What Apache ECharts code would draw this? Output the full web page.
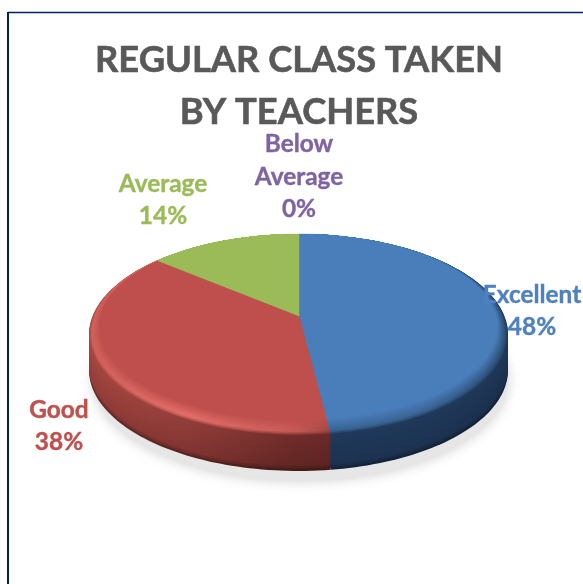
<!DOCTYPE html>
<html>
<head>
<meta charset="utf-8">
<style>html,body{margin:0;padding:0;background:#fff}#c{width:583px;height:584px}</style>
<script src="https://cdn.jsdelivr.net/npm/echarts@6/dist/echarts.min.js"></script>
</head>
<body>
<div id="c"></div>
<script>
// ---- data ----
const titleText = 'REGULAR CLASS TAKEN\nBY TEACHERS';
const categories = ['Excellent', 'Good', 'Average', 'Below Average'];
const values = [48, 38, 14, 0];
const labelNames = ['Excellent', 'Good', 'Average', 'Below\nAverage'];

// ---- styling / layout ----
const FONT = 'Lato, "Open Sans", sans-serif';
const labelColors = ['#4f81bd', '#c0504d', '#9bbb59', '#8064a2'];
const labelAnchors = [[532, 311], [59, 426], [163, 200], [299, 177]];
const faceColors = ['#4a7ebb', '#be4f4c', '#9bbb59', '#8064a2'];
// [x-fraction, rim highlight, wall top, wall bottom]
const shades = [
  [[0, '#3a6596', '#20395a', '#1b3150'], [0.6, '#3a6596', '#20395a', '#1b3150'], [1, '#2d5077', '#1f3757', '#1a2e4b']],
  [[0, '#d0605b', '#a6473f', '#8f3b38'], [0.4, '#e66e69', '#933e3a', '#7f3331'], [0.85, '#c85a56', '#6f2c2a', '#602522'], [1, '#a34643', '#6a2a28', '#5a2320']],
  [[0, '#9bbb59', '#76923c', '#76923c'], [1, '#9bbb59', '#76923c', '#76923c']],
  [[0, '#8064a2', '#5f497a', '#5f497a'], [1, '#8064a2', '#5f497a', '#5f497a']]
];
const APEX = { x: 299, y: 316 };
const PERSP = { a: 205.8, h: 97.4, k: 0.188 };
const OUTER = { cx: 298.5, cy: 335, rx: 209.5, ry: 101 };
const INNER = { cx: 298.5, cy: 327, rx: 199, ry: 93 };
const DEPTH = 35, WALL_STEPS = 14, RIM_STEPS = 12;

const total = values.reduce((a, b) => a + b, 0);
const hex = c => [1, 3, 5].map(i => parseInt(c.substr(i, 2), 16));
const mix = (a, b, t) => {
  const A = hex(a), B = hex(b);
  return '#' + A.map((v, i) => Math.round(v + (B[i] - v) * t).toString(16).padStart(2, '0')).join('');
};
// circle angle -> ray from the apex through the perspective-projected rim point
function rayOf(theta) {
  const w = 1 + PERSP.k * Math.cos(theta);
  return [PERSP.a * Math.sin(theta) / w, -PERSP.h * Math.cos(theta) / w];
}
// where that ray meets the ellipse of bevel level s (0 = inner, 1 = outer)
function hit(ray, s) {
  const rx = INNER.rx + (OUTER.rx - INNER.rx) * s,
        ry = INNER.ry + (OUTER.ry - INNER.ry) * s,
        cy = INNER.cy + (OUTER.cy - INNER.cy) * s;
  const ox = (APEX.x - OUTER.cx) / rx, oy = (APEX.y - cy) / ry;
  const dx = ray[0] / rx, dy = ray[1] / ry;
  const a = dx * dx + dy * dy, b = 2 * (ox * dx + oy * dy), c = ox * ox + oy * oy - 1;
  const u = (-b + Math.sqrt(b * b - 4 * a * c)) / (2 * a);
  return [APEX.x + ray[0] * u, APEX.y + ray[1] * u];
}
function wedge(t0, t1, s, dy) {
  const pts = [[APEX.x, APEX.y + dy]];
  const n = Math.max(2, Math.ceil((t1 - t0) * 40));
  for (let i = 0; i <= n; i++) {
    const p = hit(rayOf(t0 + (t1 - t0) * i / n), s);
    pts.push([p[0], p[1] + dy]);
  }
  return pts;
}
function grad(x0, x1, stops) {
  return { type: 'linear', x: x0, y: 0, x2: x1, y2: 0, global: true,
           colorStops: stops.map(s => ({ offset: s[0], color: s[1] })) };
}
function ramp(i, fn) { return shades[i].map(r => [r[0], fn(r)]); }
function xRange(pts) {
  const xs = pts.map(p => p[0]);
  const a = Math.min.apply(null, xs), b = Math.max.apply(null, xs);
  return [a, b === a ? a + 1 : b];
}

function renderItem(params, api) {
  const i = params.dataIndex;
  const v = api.value(1);
  const before = values.slice(0, i).reduce((a, b) => a + b, 0);
  const t0 = before / total * Math.PI * 2, t1 = (before + v) / total * Math.PI * 2;
  const pct = Math.round(v / total * 100) + '%';
  const children = [];
  if (i === 0) {
    const halo = [];
    for (let k = 0; k < 72; k++) {
      const a = k / 72 * Math.PI * 2;
      halo.push([OUTER.cx + 2 + (OUTER.rx - 3) * Math.cos(a), OUTER.cy + 45 + (OUTER.ry - 1) * Math.sin(a)]);
    }
    children.push({ type: 'polygon', z2: 1, silent: true, shape: { points: halo },
      style: { fill: '#e6e6e6', shadowBlur: 14, shadowColor: 'rgba(0,0,0,0.22)' } });
  }
  if (v > 0) {
    const full = wedge(t0, t1, 1, 0);
    const xr = xRange(full);
    // side wall, from the bottom edge up
    for (let k = WALL_STEPS; k >= 0; k--) {
      const d = DEPTH * k / WALL_STEPS, f = k / WALL_STEPS;
      const dark = k === WALL_STEPS ? 0.72 : (k === WALL_STEPS - 1 ? 0.88 : 1);
      const fill = grad(xr[0], xr[1], ramp(i, r => mix('#000000', mix(r[2], r[3], f), dark)));
      children.push({ type: 'polygon', silent: true, z2: 10 + (WALL_STEPS - k),
        shape: { points: wedge(t0, t1, 1, d) }, style: { fill: fill } });
    }
    // bevelled rim, from the outer edge inward
    for (let k = RIM_STEPS; k >= 1; k--) {
      const s = k / RIM_STEPS;
      const fill = grad(xr[0], xr[1], ramp(i, r => {
        if (s > 0.72) return mix(r[1], r[2], Math.pow((s - 0.72) / 0.28, 1.4));
        return mix(faceColors[i], r[1], s / 0.72);
      }));
      children.push({ type: 'polygon', silent: true, z2: 40 + (RIM_STEPS - k),
        shape: { points: wedge(t0, t1, s, 0) }, style: { fill: fill } });
    }
    // flat face
    children.push({ type: 'polygon', silent: true, z2: 70,
      shape: { points: wedge(t0, t1, 0, 0) },
      style: { fill: faceColors[i], stroke: faceColors[i], lineWidth: 0.4 } });
  }
  children.push({ type: 'text', z2: 90, silent: true,
    style: { text: labelNames[i] + '\n' + pct, x: labelAnchors[i][0], y: labelAnchors[i][1],
      align: 'center', verticalAlign: 'middle', fontFamily: FONT, fontWeight: 'bold',
      fontSize: 24.4, lineHeight: 32.5, fill: labelColors[i],
      stroke: labelColors[i], lineWidth: 0.4 } });
  return { type: 'group', children: children };
}

const chart = echarts.init(document.getElementById('c'), null, { renderer: 'canvas' });
chart.setOption({
  animation: false,
  backgroundColor: '#ffffff',
  title: { text: titleText, left: 299, top: 34, padding: 0, textAlign: 'center',
    textStyle: { fontFamily: FONT, fontWeight: 'bold', fontSize: 36.3, lineHeight: 52, color: '#595959',
      textBorderColor: '#595959', textBorderWidth: 0.6 } },
  graphic: [
    { type: 'line', silent: true, shape: { x1: 8, y1: 12.5, x2: 583, y2: 12.5 }, style: { stroke: '#002060', lineWidth: 1.5 } },
    { type: 'line', silent: true, shape: { x1: 8, y1: 12, x2: 8, y2: 584 }, style: { stroke: '#002060', lineWidth: 2 } }
  ],
  series: [{
    type: 'custom',
    coordinateSystem: 'none',
    renderItem: renderItem,
    data: categories.map((c, i) => ({ name: c, value: [i, values[i]] })),
    silent: true
  }]
});
</script>
</body>
</html>
